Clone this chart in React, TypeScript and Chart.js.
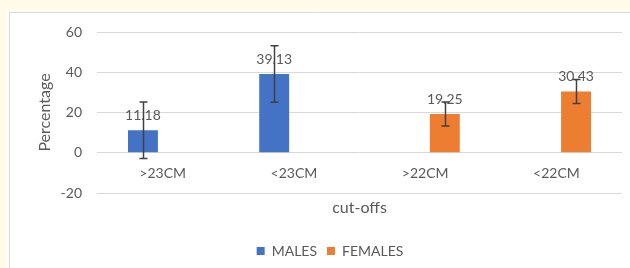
import React, { useEffect, useRef } from 'react';
import { Chart, registerables } from 'chart.js';

Chart.register(...registerables);

const categories = ['>23CM', '<23CM', '>22CM', '<22CM'];
const malesValues = [11.18, 39.13, null, null];
const femalesValues = [null, null, 19.25, 30.43];
const malesErrors = [14, 14, null, null];
const femalesErrors = [null, null, 6, 6];
const yMin = -20;
const yMax = 60;
const yStep = 20;

const TEXT = '#595959';
const GRID = '#d9d9d9';

const backgroundPlugin = {
  id: 'panelBackground',
  beforeDraw(chart: any) {
    const { ctx, width, height } = chart;
    ctx.save();
    ctx.fillStyle = '#fffbe8';
    ctx.fillRect(0, 0, width, height);
    ctx.fillStyle = '#fffdf3';
    ctx.fillRect(5, 9, width - 5, height - 9);
    ctx.fillStyle = '#ffffff';
    ctx.fillRect(9, 12, width - 9, height - 12);
    ctx.strokeStyle = '#d9d9d9';
    ctx.lineWidth = 1;
    ctx.beginPath();
    ctx.moveTo(9.5, height);
    ctx.lineTo(9.5, 12.5);
    ctx.lineTo(width, 12.5);
    ctx.stroke();
    ctx.restore();
  },
};

const errorsByDataset = [malesErrors, femalesErrors];

const labelsAndErrorsPlugin = {
  id: 'labelsAndErrors',
  afterDatasetsDraw(chart: any) {
    const { ctx } = chart;
    const yScale = chart.scales.y;
    ctx.save();
    // value labels
    ctx.font = '14px Lato';
    ctx.fillStyle = TEXT;
    ctx.textAlign = 'center';
    ctx.textBaseline = 'middle';
    chart.data.datasets.forEach((ds: any, di: number) => {
      const meta = chart.getDatasetMeta(di);
      meta.data.forEach((el: any, i: number) => {
        const v = ds.data[i];
        if (v === null || v === undefined) return;
        ctx.fillText(v.toFixed(2), el.x, el.y - 15);
      });
    });
    // error bars
    ctx.strokeStyle = '#404040';
    ctx.lineWidth = 1.5;
    chart.data.datasets.forEach((ds: any, di: number) => {
      const meta = chart.getDatasetMeta(di);
      const errs = errorsByDataset[di];
      meta.data.forEach((el: any, i: number) => {
        const v = ds.data[i];
        const e = errs[i];
        if (v === null || v === undefined || e === null) return;
        const yTop = yScale.getPixelForValue(v + e);
        const yBot = yScale.getPixelForValue(v - e);
        const x = Math.round(el.x) + 0.5;
        ctx.beginPath();
        ctx.moveTo(x, yTop);
        ctx.lineTo(x, yBot);
        ctx.moveTo(x - 4, yTop);
        ctx.lineTo(x + 4, yTop);
        ctx.moveTo(x - 4, yBot);
        ctx.lineTo(x + 4, yBot);
        ctx.stroke();
      });
    });
    ctx.restore();
  },
};

export default function App() {
  const ref = useRef<HTMLCanvasElement | null>(null);

  useEffect(() => {
    document.body.style.margin = '0';
    Chart.defaults.font.family = 'Lato';
    Chart.defaults.font.size = 14;
    Chart.defaults.color = TEXT;
    const chart = new Chart(ref.current as HTMLCanvasElement, {
      type: 'bar',
      data: {
        labels: categories,
        datasets: [
          {
            label: 'MALES',
            data: malesValues,
            backgroundColor: '#4472c4',
            categoryPercentage: 0.6,
            barPercentage: 0.76,
          },
          {
            label: 'FEMALES',
            data: femalesValues,
            backgroundColor: '#ed7d31',
            categoryPercentage: 0.6,
            barPercentage: 0.76,
          },
        ],
      },
      options: {
        responsive: false,
        animation: false,
        devicePixelRatio: 1,
        layout: { padding: { top: 32, right: 8, left: 38, bottom: 0 } },
        plugins: {
          legend: {
            position: 'bottom',
            labels: {
              boxWidth: 8,
              boxHeight: 8,
              padding: 10,
              color: TEXT,
              font: { size: 14 },
            },
          },
          tooltip: { enabled: false },
        },
        scales: {
          x: {
            type: 'category',
            position: { y: 0 },
            grid: { display: false, drawTicks: false },
            border: { display: false },
            ticks: { padding: 12, color: TEXT, font: { size: 14 } },
          },
          x2: {
            type: 'category',
            position: 'bottom',
            grid: { display: false, drawTicks: false },
            border: { display: false },
            ticks: { display: false },
            title: {
              display: true,
              text: 'cut-offs',
              color: TEXT,
              font: { size: 16 },
              padding: { top: 5.4, bottom: 16.4 },
            },
          },
          y: {
            min: yMin,
            max: yMax,
            ticks: { stepSize: yStep, padding: 15, color: TEXT, font: { size: 14 } },
            grid: { color: GRID, drawTicks: false },
            border: { display: false },
            title: {
              display: true,
              text: 'Percentage',
              color: TEXT,
              font: { size: 16 },
              padding: { top: -2.6, bottom: 0 },
            },
            afterFit: (s: any) => {
              s.width = 59;
            },
          },
        },
      } as any,
      plugins: [backgroundPlugin, labelsAndErrorsPlugin],
    });
    return () => chart.destroy();
  }, []);

  return <canvas ref={ref} width={630} height={268} style={{ display: 'block' }} />;
}
